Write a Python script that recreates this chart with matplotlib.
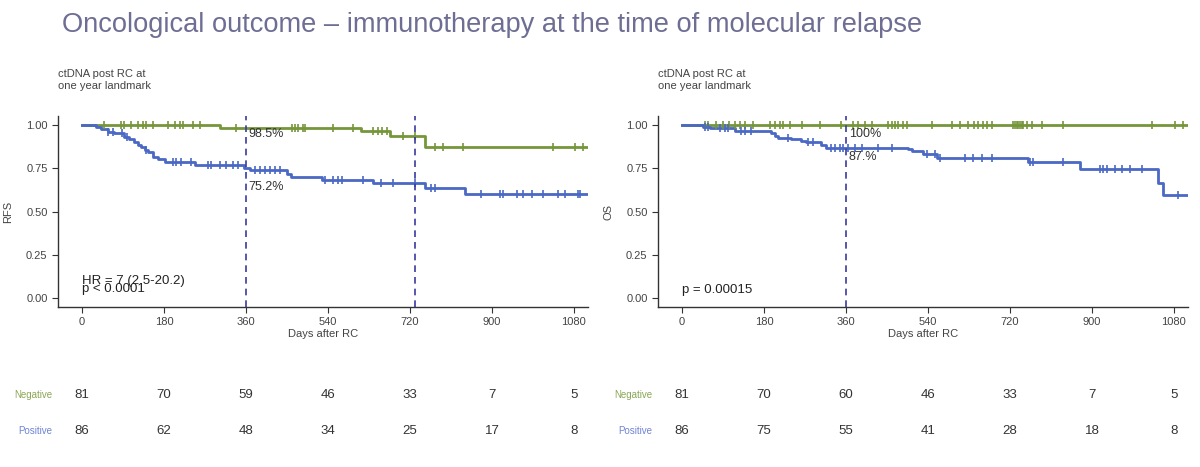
import matplotlib
matplotlib.use("Agg")
import matplotlib.pyplot as plt
import matplotlib.transforms as mtransforms
import numpy as np

plt.rcParams["font.family"] = ["Liberation Sans", "DejaVu Sans"]

# ---------------- data ----------------
x_ticks = [0, 180, 360, 540, 720, 900, 1080]
y_ticks = [0.00, 0.25, 0.50, 0.75, 1.00]
end_day = 1108

# RFS
rfs_neg_times = [0, 302, 613, 676, 754]
rfs_neg_surv = [1.0, 0.985, 0.965, 0.938, 0.871]
rfs_neg_censor = [49, 86, 93, 108, 122, 133, 140, 155, 188, 203, 215, 221, 243, 258, 339,
                  460, 467, 473, 485, 489, 550, 594, 638, 649, 658, 669, 704, 730,
                  775, 792, 836, 1034, 1082, 1100]
rfs_pos_times = [0, 31, 42, 57, 71, 93, 104, 115, 123, 130, 137, 145, 156, 167, 181,
                 247, 355, 368, 449, 458, 526, 639, 752, 840]
rfs_pos_surv = [1.0, 0.990, 0.977, 0.961, 0.952, 0.933, 0.919, 0.904, 0.885, 0.875,
                0.856, 0.842, 0.817, 0.804, 0.785, 0.769, 0.752, 0.738, 0.715, 0.702,
                0.683, 0.664, 0.638, 0.602]
rfs_pos_censor = [57, 68, 87, 98, 141, 200, 207, 218, 240, 276, 284, 302, 317, 331, 342,
                  379, 390, 401, 412, 423, 434, 533, 550, 561, 570, 616, 657, 682, 730,
                  767, 775, 877, 917, 925, 954, 969, 987, 1012, 1045, 1060, 1089, 1093]

# OS
os_neg_times = [0]
os_neg_surv = [1.0]
os_neg_censor = [50, 57, 75, 90, 104, 116, 127, 138, 156, 193, 204, 215, 222, 237, 263,
                 303, 350, 376, 387, 401, 416, 453, 460, 467, 475, 486, 493, 548, 592,
                 610, 628, 640, 650, 661, 669, 680, 727, 731, 735, 738, 742, 746, 749,
                 757, 768, 790, 837, 1031, 1083, 1101]
os_pos_times = [0, 46, 61, 116, 196, 204, 211, 240, 262, 273, 306, 317, 497, 504, 530,
                559, 760, 874, 1046, 1057]
os_pos_surv = [1.0, 0.990, 0.981, 0.967, 0.952, 0.938, 0.927, 0.917, 0.908, 0.900,
               0.885, 0.869, 0.860, 0.850, 0.831, 0.812, 0.785, 0.746, 0.664, 0.596]
os_pos_censor = [50, 57, 83, 94, 101, 130, 138, 152, 233, 277, 288, 328, 336, 347, 354,
                 365, 379, 394, 431, 460, 537, 555, 566, 621, 639, 658, 680, 764, 771,
                 837, 918, 925, 933, 951, 966, 984, 1009, 1090]

rfs_risk_neg = [81, 70, 59, 46, 33, 7, 5]
rfs_risk_pos = [86, 62, 48, 34, 25, 17, 8]
os_risk_neg = [81, 70, 60, 46, 33, 7, 5]
os_risk_pos = [86, 75, 55, 41, 28, 18, 8]

title = "Oncological outcome \u2013 immunotherapy at the time of molecular relapse"

# ---------------- style ----------------
W, H = 1200, 467
GREEN = "#76963a"
BLUE = "#4a68c4"
DASH = "#3a3a9e"
TXT = "#444444"

fig = plt.figure(figsize=(W / 100, H / 100), dpi=100)
fig.patch.set_facecolor("white")


def fx(x):
    return x / W


def fy(y):
    return 1 - y / H


# title: fit its width to the reference span (~858 px)
t = fig.text(fx(62), fy(32), title, fontsize=22, color="#6e6e94",
             ha="left", va="baseline")
renderer = fig.canvas.get_renderer()
w_now = t.get_window_extent(renderer=renderer).width
t.set_fontsize(22 * 858.0 / w_now)


def step_value(times, surv, tv):
    idx = np.searchsorted(times, tv, side="right") - 1
    return surv[idx]


def draw_curve(ax, times, surv, censor, color):
    tt = list(times) + [end_day]
    ss = list(surv) + [surv[-1]]
    ax.step(tt, ss, where="post", color=color, lw=2.0, zorder=3)
    cy = [step_value(times, surv, c) for c in censor]
    ax.plot(censor, cy, ls="none", marker="|", ms=6, mew=1.2, color=color, zorder=4)


def make_panel(left_px, ylabel, neg, pos, dashes, annots, stat_lines, risk_neg, risk_pos):
    bottom_px, top_px, right_px = 307, 116.3, left_px + 530
    ax = fig.add_axes([fx(left_px), fy(bottom_px), (right_px - left_px) / W,
                       (bottom_px - top_px) / H])
    ax.set_xlim(-53, 1111)
    ax.set_ylim(-0.05, 1.05)
    for s in ["top", "right"]:
        ax.spines[s].set_visible(False)
    for s in ["left", "bottom"]:
        ax.spines[s].set_color("#333333")
        ax.spines[s].set_linewidth(1.0)
    ax.set_xticks(x_ticks)
    ax.set_yticks(y_ticks)
    ax.set_yticklabels([f"{v:.2f}" for v in y_ticks])
    ax.tick_params(axis="both", labelsize=8, colors="#333333", length=4, labelcolor=TXT)
    ax.set_xlabel("Days after RC", fontsize=8, color=TXT, labelpad=1)
    ax.set_ylabel(ylabel, fontsize=8, color=TXT)
    ax.yaxis.set_label_coords((13 - left_px % 600) / 530.0, 0.5)

    draw_curve(ax, *neg, GREEN)
    draw_curve(ax, *pos, BLUE)
    for d in dashes:
        ax.axvline(d, color=DASH, ls=(0, (4, 3)), lw=1.2, zorder=5)
    for (x, y, s) in annots:
        ax.text(x, y, s, fontsize=9, color="#333333", ha="left", va="center", zorder=6)
    for (x, y, s) in stat_lines:
        ax.text(x, y, s, fontsize=9.5, color="#222222", ha="left", va="center", zorder=6)

    fig.text(fx(left_px), fy(74), "ctDNA post RC at", fontsize=8, color=TXT, va="center")
    fig.text(fx(left_px), fy(86), "one year landmark", fontsize=8, color=TXT, va="center")

    tr = mtransforms.blended_transform_factory(ax.transData, fig.transFigure)
    for xv, n in zip(x_ticks, risk_neg):
        ax.text(xv, fy(395), str(n), transform=tr, fontsize=9.5, color="#333333",
                ha="center", va="center", clip_on=False)
    for xv, n in zip(x_ticks, risk_pos):
        ax.text(xv, fy(431), str(n), transform=tr, fontsize=9.5, color="#333333",
                ha="center", va="center", clip_on=False)
    fig.text(fx(left_px - 6), fy(395), "Negative", fontsize=7, color="#8aa654",
             ha="right", va="center")
    fig.text(fx(left_px - 6), fy(431), "Positive", fontsize=7, color="#6f84d4",
             ha="right", va="center")
    return ax


make_panel(58, "RFS",
           (rfs_neg_times, rfs_neg_surv, rfs_neg_censor),
           (rfs_pos_times, rfs_pos_surv, rfs_pos_censor),
           [360, 730],
           [(366, 0.948, "98.5%"), (366, 0.645, "75.2%")],
           [(0, 0.10, "HR = 7 (2.5-20.2)"), (0, 0.052, "p < 0.0001")],
           rfs_risk_neg, rfs_risk_pos)

make_panel(658, "OS",
           (os_neg_times, os_neg_surv, os_neg_censor),
           (os_pos_times, os_pos_surv, os_pos_censor),
           [360],
           [(366, 0.948, "100%"), (366, 0.817, "87.%")],
           [(0, 0.048, "p = 0.00015")],
           os_risk_neg, os_risk_pos)

fig.savefig("out.png", dpi=100, facecolor="white")
